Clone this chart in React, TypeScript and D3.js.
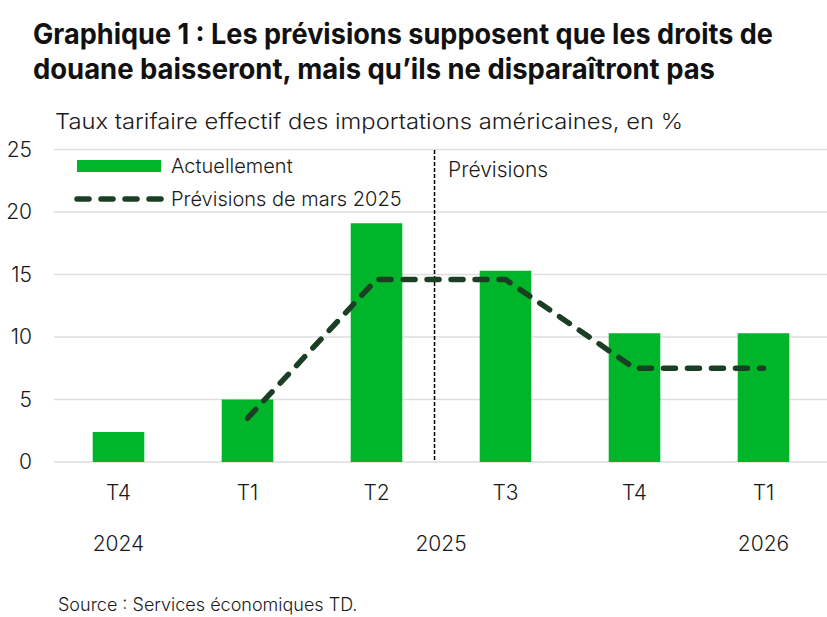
import React from "react";
import * as d3 from "d3";

const quarters = ["T4", "T1", "T2", "T3", "T4", "T1"];
const years = [
  { label: "2024", from: 0, to: 0 },
  { label: "2025", from: 1, to: 4 },
  { label: "2026", from: 5, to: 5 },
];
const actual = [2.4, 5.0, 19.1, 15.3, 10.3, 10.3];
const marchForecast: (number | null)[] = [null, 3.5, 14.6, 14.6, 7.5, 7.5];
const yTicks = [0, 5, 10, 15, 20, 25];

const W = 827;
const H = 617;
const FONT = "Inter, 'Noto Sans', sans-serif";
const GREEN = "#00b52a";
const DARK = "#1a3f25";
const TXT = "#1a1a1a";

export default function App() {
  const x = d3
    .scaleBand<number>()
    .domain(d3.range(quarters.length))
    .range([54, 828])
    .paddingInner(0.6)
    .paddingOuter(0.3);
  const y = d3.scaleLinear().domain([0, 25]).range([462, 149.5]);
  const cx = (i: number) => (x(i) as number) + x.bandwidth() / 2;

  const linePts = marchForecast
    .map((v, i) => ({ v, i }))
    .filter((d) => d.v !== null) as { v: number; i: number }[];
  const line = d3
    .line<{ v: number; i: number }>()
    .x((d) => cx(d.i))
    .y((d) => y(d.v));

  const divX = cx(2) + x.step() * 0.45;

  return (
    <svg
      width={W}
      height={H}
      style={{ position: "absolute", left: 0, top: 0, background: "#fff" }}
      fontFamily={FONT}
    >
      <text x={33} y={44} fontSize={28} fontWeight={700} fill="#111" textLength={740} lengthAdjust="spacingAndGlyphs">
        Graphique 1 : Les prévisions supposent que les droits de
      </text>
      <text x={33} y={79} fontSize={28} fontWeight={700} fill="#111" textLength={682} lengthAdjust="spacingAndGlyphs">
        douane baisseront, mais qu’ils ne disparaîtront pas
      </text>
      <text x={55} y={129} fontSize={22} fontWeight={300} fill={TXT} textLength={628} lengthAdjust="spacingAndGlyphs">
        Taux tarifaire effectif des importations américaines, en %
      </text>

      {yTicks.map((t) => (
        <g key={t}>
          <line x1={54} x2={827} y1={y(t)} y2={y(t)} stroke="#dedede" strokeWidth={1.5} />
          <text x={32} y={y(t)} dy="0.35em" textAnchor="end" fontSize={21} fontWeight={300} fill={TXT}>
            {t}
          </text>
        </g>
      ))}

      {actual.map((v, i) => (
        <rect
          key={i}
          x={x(i)}
          y={y(v)}
          width={x.bandwidth()}
          height={y(0) - y(v)}
          fill={GREEN}
        />
      ))}

      <line
        x1={divX}
        x2={divX}
        y1={150}
        y2={461}
        stroke="#000"
        strokeWidth={1.5}
        strokeDasharray="4,2"
      />
      <text x={448} y={177} fontSize={21} fontWeight={300} fill={TXT}>
        Prévisions
      </text>

      <path
        d={line(linePts) || ""}
        fill="none"
        stroke={DARK}
        strokeWidth={5.5}
        strokeDasharray="12,12"
        strokeLinecap="round"
        strokeLinejoin="round"
      />

      <rect x={77} y={160} width={84} height={12} fill={GREEN} />
      <text x={171} y={173} fontSize={20} fontWeight={300} fill={TXT}>
        Actuellement
      </text>
      <line
        x1={77}
        x2={162}
        y1={199}
        y2={199}
        stroke={DARK}
        strokeWidth={5.5}
        strokeDasharray="12,12"
        strokeLinecap="round"
      />
      <text x={171} y={206} fontSize={20} fontWeight={300} fill={TXT}>
        Prévisions de mars 2025
      </text>

      {quarters.map((q, i) => (
        <text key={i} x={cx(i)} y={500} textAnchor="middle" fontSize={21} fontWeight={300} fill={TXT}>
          {q}
        </text>
      ))}
      {years.map((yr) => (
        <text
          key={yr.label}
          x={(cx(yr.from) + cx(yr.to)) / 2}
          y={551}
          textAnchor="middle"
          fontSize={21}
          fontWeight={300}
          fill={TXT}
        >
          {yr.label}
        </text>
      ))}

      <text x={58} y={611} fontSize={18} fontWeight={300} fill={TXT}>
        Source : Services économiques TD.
      </text>
    </svg>
  );
}
